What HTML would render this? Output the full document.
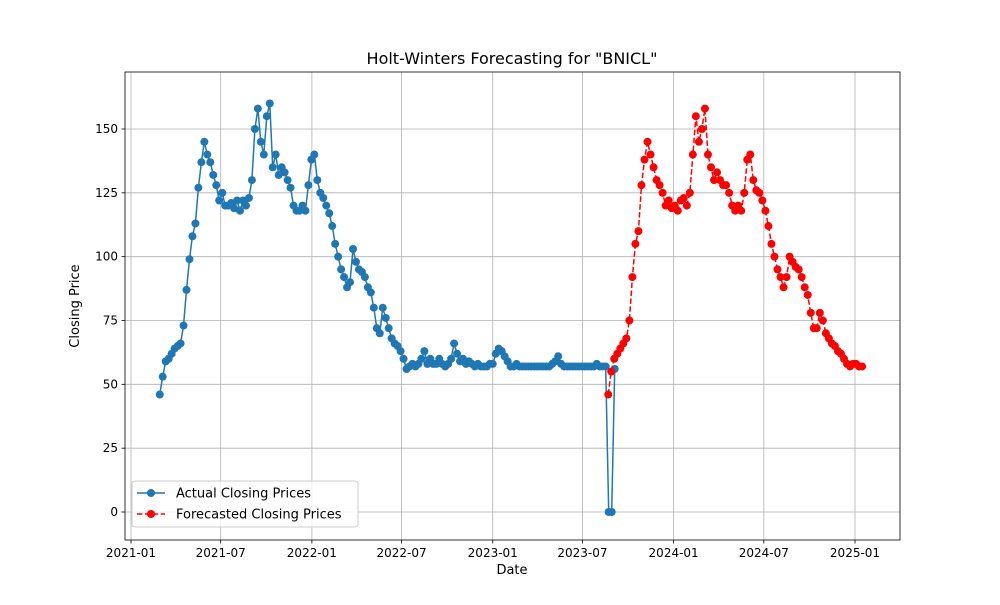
<!DOCTYPE html>
<html><head><meta charset="utf-8"><style>
body{margin:0;background:#fff;font-family:"Liberation Sans","DejaVu Sans",sans-serif}
svg text{font-family:"DejaVu Sans","Liberation Sans",sans-serif}
</style></head><body>
<svg id="chart" width="1000" height="600" xmlns="http://www.w3.org/2000/svg"></svg>
<script>
const actualStart = "2021-02-28";
const actualStepDays = 6;
const actualValues = [46,53,59,60,62,64,65,66,73,87,99,108,113,127,137,145,140,137,132,128,122,125,120,120,121,119,122,118,122,120,123,130,150,158,145,140,155,160,135,140,132,135,133,130,127,120,118,118,120,118,128,138,140,130,125,123,120,117,112,105,100,95,92,88,90,103,98,95,94,92,88,86,80,72,70,80,76,72,68,66,65,63,60,56,57,58,57,58,60,63,58,60,58,58,60,58,57,58,60,66,62,59,60,58,59,58,57,58,57,57,57,58,58,62,64,63,61,59,57,57,58,57,57,57,57,57,57,57,57,57,57,57,58,59,61,58,57,57,57,57,57,57,57,57,57,57,57,58,57,57,57,0,0,56];
const forecastStart = "2023-08-22";
const forecastStepDays = 6.1;
const forecastValues = [46,55,60,62,64,66,68,75,92,105,110,128,138,145,140,135,130,128,125,120,122,119,120,118,122,123,120,125,140,155,145,150,158,140,135,130,133,130,128,128,125,120,118,120,118,125,138,140,130,126,125,122,118,112,105,100,95,92,88,92,100,98,96,95,92,88,85,78,72,72,78,75,70,68,66,65,63,62,60,58,57,58,58,57,57];
const yTicks = [0,25,50,75,100,125,150];
const xTicks = ["2021-01","2021-07","2022-01","2022-07","2023-01","2023-07","2024-01","2024-07","2025-01"];

const NS="http://www.w3.org/2000/svg";
const svg=document.getElementById('chart');
const L=125,R=900,T=72,B=540;
const d0=Date.parse("2021-01-01"), d1=Date.parse("2025-01-01");
function xs(t){return 131+(t-d0)/(d1-d0)*(855-131);}
function ys(v){return 512-v*(512-129)/150;}
function mk(tag,attrs,parent){const e=document.createElementNS(NS,tag);for(const k in attrs)e.setAttribute(k,attrs[k]);(parent||svg).appendChild(e);return e;}
function dates(start,step,n){const s=Date.parse(start);const a=[];for(let i=0;i<n;i++)a.push(s+i*step*86400000);return a;}

const grid=mk('g',{});


yTicks.forEach(v=>{
  const y=ys(v);
  mk('line',{x1:L,x2:R,y1:y,y2:y,stroke:'#b0b0b0','stroke-width':0.8},grid);
  mk('line',{x1:L-3.5,x2:L,y1:y,y2:y,stroke:'#000','stroke-width':0.8});
  const t=mk('text',{x:L-7,y:y+4,'text-anchor':'end','font-size':12});
  t.textContent=v;
  
  
});
xTicks.forEach(s=>{
  const x=xs(Date.parse(s+"-01"));
  mk('line',{x1:x,x2:x,y1:T,y2:B,stroke:'#b0b0b0','stroke-width':0.8},grid);
  mk('line',{x1:x,x2:x,y1:B,y2:B+3.5,stroke:'#000','stroke-width':0.8});
  const t=mk('text',{x:x,y:B+17,'text-anchor':'middle','font-size':12});
  t.textContent=s;
  
  
});

function series(start,step,vals,color,dash,name){
  const ds=dates(start,step,vals.length);
  const g=mk('g',{});
  
  
  const pts=vals.map((v,i)=>xs(ds[i]).toFixed(1)+','+ys(v).toFixed(1)).join(' ');
  mk('polyline',{points:pts,fill:'none',stroke:color,'stroke-width':1.5,'stroke-dasharray':dash||'none'},g);
  vals.forEach((v,i)=>{
    const c=mk('circle',{cx:xs(ds[i]),cy:ys(v),r:4,fill:color},g);
    
    
  });
}
series(actualStart,actualStepDays,actualValues,'#1f77b4',null,'actual-series');
series(forecastStart,forecastStepDays,forecastValues,'#ff0000','5.5,2.4','forecast-series');

mk('rect',{x:L,y:T,width:R-L,height:B-T,fill:'none',stroke:'#000','stroke-width':0.8});

const title=mk('text',{x:512,y:64,'text-anchor':'middle','font-size':16});
title.textContent='Holt-Winters Forecasting for "BNICL"';


const xl=mk('text',{x:512,y:574,'text-anchor':'middle','font-size':13});
xl.textContent='Date';


const yl=mk('text',{x:79,y:306,'text-anchor':'middle','font-size':13,transform:'rotate(-90 79 306)'});
yl.textContent='Closing Price';



const lg=mk('g',{});


mk('rect',{x:132,y:481,width:226,height:46,rx:3,fill:'#fff','fill-opacity':0.8,stroke:'#ccc'},lg);
[['Actual Closing Prices','#1f77b4',null,493],['Forecasted Closing Prices','#ff0000','5.5,2.4',514]].forEach(([lab,c,d,y])=>{
  mk('line',{x1:137,x2:165,y1:y,y2:y,stroke:c,'stroke-width':1.5,'stroke-dasharray':d||'none'},lg);
  mk('circle',{cx:151,cy:y,r:4,fill:c},lg);
  const t=mk('text',{x:176,y:y+4.5,'font-size':13},lg);
  t.textContent=lab;
  
  
});
</script>
</body></html>
